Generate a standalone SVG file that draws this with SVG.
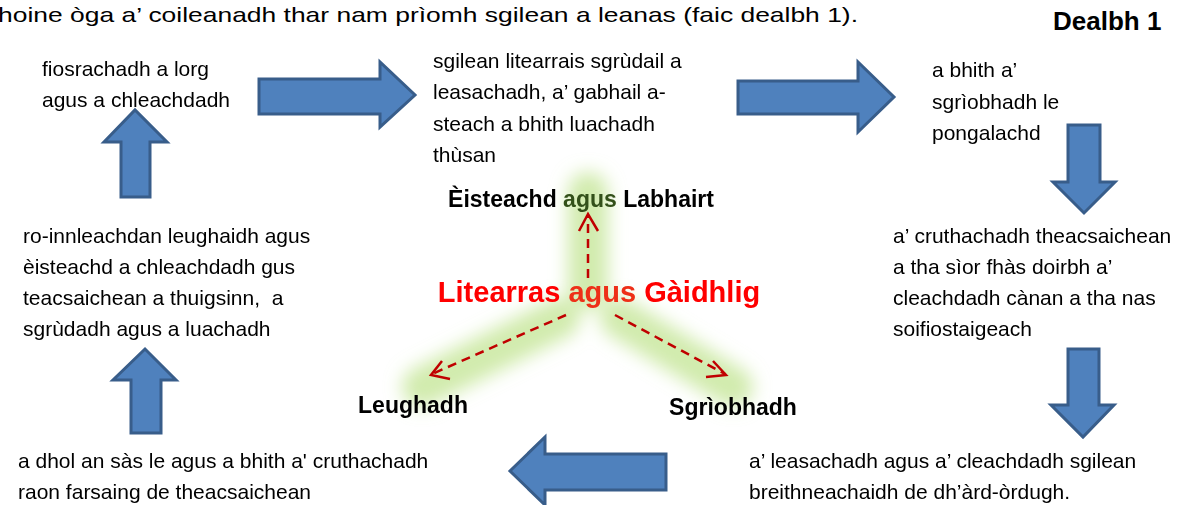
<svg xmlns="http://www.w3.org/2000/svg" width="1180" height="505" viewBox="0 0 1180 505">
<defs>
<style>
.t{font-family:"Liberation Sans",Arial,sans-serif;font-size:21px;fill:#000}
.b{font-family:"Liberation Sans",Arial,sans-serif;font-weight:bold;fill:#000}
.blk{fill:#4f81bd;stroke:#385d8a;stroke-width:3;stroke-linejoin:miter}
.dash{fill:none;stroke:#c00000;stroke-width:2.5;stroke-dasharray:9 6}
.head{fill:none;stroke:#c00000;stroke-width:2.5}
.glow{fill:none;stroke:#bde38a;stroke-width:40;stroke-linecap:round;opacity:0.7}
</style>
<filter id="blur" x="-50%" y="-50%" width="200%" height="200%"><feGaussianBlur stdDeviation="9"/></filter>
</defs>
<rect width="1180" height="505" fill="#fff"/>
<text class="t" x="-2" y="22" font-size="26" textLength="860" lengthAdjust="spacingAndGlyphs">hoine òga a’ coileanadh thar nam prìomh sgilean a leanas (faic dealbh 1).</text>
<text class="b" x="1053" y="30" font-size="26">Dealbh 1</text>

<g id="glow" filter="url(#blur)">
<path class="glow" d="M588 290 L588 192"/>
<path class="glow" d="M560 318 L422 387"/>
<path class="glow" d="M620 318 L733 387"/>
</g>

<g id="node-top-left"><text class="t" x="42" y="76">fiosrachadh a lorg</text><text class="t" x="42" y="107">agus a chleachdadh</text></g>
<g id="node-top-center"><text class="t" x="433" y="68">sgilean litearrais sgrùdail a</text><text class="t" x="433" y="99">leasachadh, a’ gabhail a-</text><text class="t" x="433" y="131">steach a bhith luachadh</text><text class="t" x="433" y="162">thùsan</text></g>
<g id="node-top-right"><text class="t" x="932" y="77">a bhith a’</text><text class="t" x="932" y="109">sgrìobhadh le</text><text class="t" x="932" y="140">pongalachd</text></g>
<g id="node-mid-right"><text class="t" x="893" y="243">a’ cruthachadh theacsaichean</text><text class="t" x="893" y="274">a tha sìor fhàs doirbh a’</text><text class="t" x="893" y="305">cleachdadh cànan a tha nas</text><text class="t" x="893" y="336">soifiostaigeach</text></g>
<g id="node-mid-left"><text class="t" x="23" y="243">ro-innleachdan leughaidh agus</text><text class="t" x="23" y="274">èisteachd a chleachdadh gus</text><text class="t" x="23" y="305" xml:space="preserve">teacsaichean a thuigsinn,  a</text><text class="t" x="23" y="336">sgrùdadh agus a luachadh</text></g>
<g id="node-bottom-left"><text class="t" x="18" y="468">a dhol an sàs le agus a bhith a' cruthachadh</text><text class="t" x="18" y="499">raon farsaing de theacsaichean</text></g>
<g id="node-bottom-right"><text class="t" x="749" y="468">a’ leasachadh agus a’ cleachdadh sgilean</text><text class="t" x="749" y="499">breithneachaidh de dh’àrd-òrdugh.</text></g>

<g id="node-center"><text class="b" x="599" y="302" font-size="29" text-anchor="middle" style="fill:#ff0000">Litearras <tspan style="fill:#ee2f18">agus</tspan> Gàidhlig</text></g>
<g id="node-listen"><text class="b" x="581" y="207" font-size="23" text-anchor="middle">Èisteachd <tspan style="fill:#33501a">agus</tspan> Labhairt</text></g>
<g id="node-read"><text class="b" x="413" y="413" font-size="23" text-anchor="middle">Leughadh</text></g>
<g id="node-write"><text class="b" x="733" y="415" font-size="23" text-anchor="middle">Sgrìobhadh</text></g>

<g id="connectors">
<polygon class="blk" points="259,79 380,79 380,62 415,95 380,127 380,114 259,114"/>
<polygon class="blk" points="738,81 858,81 858,62 894,97 858,132 858,114 738,114"/>
<polygon class="blk" points="1068,125 1100,125 1100,182 1115,182 1084,213 1053,182 1068,182"/>
<polygon class="blk" points="1068,349 1099,349 1099,405 1114,405 1083,437 1051,405 1068,405"/>
<polygon class="blk" points="666,454 666,490 545,490 545,505 510,471 545,437 545,454"/>
<polygon class="blk" points="121,197 150,197 150,142 167,142 135,110 104,142 121,142"/>
<polygon class="blk" points="131,433 161,433 161,380 176,380 145,349 113,380 131,380"/>
<path class="dash" d="M588 278 L588 215"/>
<path class="head" d="M579 231 L588 214 L598 231"/>
<path class="dash" d="M566 315 L432 374"/>
<path class="head" d="M442 361 L431 375 L450 379"/>
<path class="dash" d="M615 315 L725 374"/>
<path class="head" d="M713 361 L726 375 L706 377"/>
</g>
</svg>
